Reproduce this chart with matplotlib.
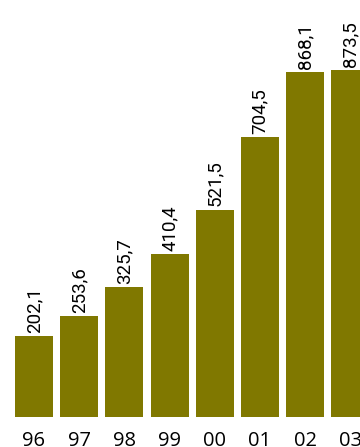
import matplotlib.pyplot as plt
import numpy as np

years = ['96', '97', '98', '99', '00', '01', '02', '03']
values = [202.1, 253.6, 325.7, 410.4, 521.5, 704.5, 868.1, 873.5]
labels = ['202,1', '253,6', '325,7', '410,4', '521,5', '704,5', '868,1', '873,5']

bar_color = '#807800'

fig = plt.figure(figsize=(3.6, 4.47), dpi=100)
# axis baseline sits ~30 px above the bottom edge
ax = fig.add_axes([0, 30.3 / 447, 1, 416.7 / 447])

x = np.arange(len(years))
ax.bar(x, values, width=0.84, color=bar_color)

for xi, v, lab in zip(x, values, labels):
    ax.text(xi, v + 8, lab, rotation=90, ha='center', va='bottom',
            fontsize=13.5, family='Roboto', color='black')

ax.set_xlim(-0.752, 7.212)
ax.set_ylim(0, 1049.6)
ax.set_xticks(x)
ax.set_xticklabels(years, fontsize=14.5, family='Open Sans')
ax.tick_params(axis='x', length=0, pad=10)
ax.set_yticks([])
for s in ax.spines.values():
    s.set_visible(False)

fig.savefig('out.png', dpi=100)
